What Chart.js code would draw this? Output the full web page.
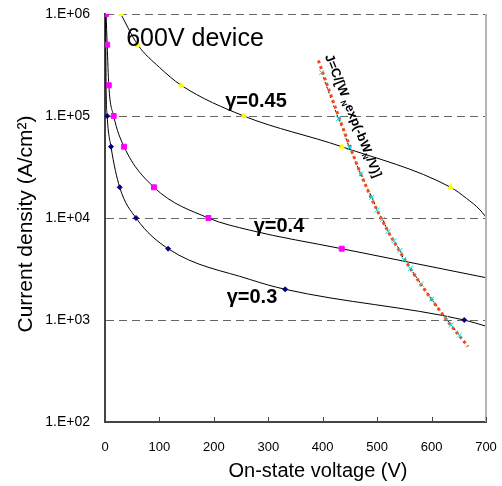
<!DOCTYPE html>
<html>
<head>
<meta charset="utf-8">
<script src="https://cdn.jsdelivr.net/npm/chart.js@4"></script>
<style>
  body { margin: 0; background: #fff; }
</style>
</head>
<body>
<canvas id="jv-chart" width="502" height="486"></canvas>
<script>
// curves (V, A/cm2)
const lineV45 = [29, 60, 100, 140, 255, 435, 635, 664, 689, 706];
const lineJ45 = [1e6, 5e5, 3e5, 2e5, 1e5, 5e4, 2e4, 1.56e4, 1.2e4, 9.2e3];
const markV45 = [30, 60, 140, 255, 435, 635];
const markJ45 = [1e6, 5e5, 2e5, 1e5, 5e4, 2e4];

const lineV40 = [2, 4, 7, 16, 35, 90, 190, 266, 435, 557, 700];
const lineJ40 = [1e6, 5e5, 2e5, 1e5, 5e4, 2e4, 1e4, 7.6e3, 5e3, 3.7e3, 2.6e3];
const markV40 = [2, 4, 7, 16, 35, 90, 190, 435];
const markJ40 = [1e6, 5e5, 2e5, 1e5, 5e4, 2e4, 1e4, 5e3];

const lineV30 = [1, 1.5, 2, 4, 11, 27, 57, 116, 266, 331, 660, 700];
const lineJ30 = [1e6, 5e5, 2e5, 1e5, 5e4, 2e4, 1e4, 5e3, 2.5e3, 2e3, 1e3, 870];
const markV30 = [1.5, 2, 4, 11, 27, 57, 116, 331, 660];
const markJ30 = [5e5, 2e5, 1e5, 5e4, 2e4, 1e4, 5e3, 2e3, 1e3];

const simV = [398, 429, 449, 470, 490, 500, 510, 520, 531, 542, 549, 561, 581, 600, 626, 636, 651];
const simJ = [2.66e5, 9.4e4, 4.9e4, 2.7e4, 1.6e4, 1.2e4, 9.7e3, 7.4e3, 6.0e3, 4.8e3, 3.9e3, 3.2e3, 2.24e3, 1.6e3, 1.04e3, 890, 710];

const fitV = [392, 429, 470, 507, 561, 628, 667];
const fitJ = [3.5e5, 1e5, 2.7e4, 1e4, 3.2e3, 1e3, 550];

const yTicks = [100, 1000, 10000, 100000, 1000000];
const xTicks = [0, 100, 200, 300, 400, 500, 600, 700];

const font = 'Liberation Sans, Arial, sans-serif';

function pts(xs, ys) {
    return xs.map((x, i) => ({x: x, y: ys[i]}));
}

function curve(xs, ys) {
    return {
        data: pts(xs, ys),
        showLine: true,
        borderColor: '#000',
        borderWidth: 1,
        pointRadius: 0,
        cubicInterpolationMode: 'monotone'
    };
}

function marks(xs, ys, style, color, r) {
    return {
        data: pts(xs, ys),
        showLine: false,
        pointStyle: style,
        pointRadius: r,
        backgroundColor: color,
        borderColor: color,
        borderWidth: 1
    };
}

const notes = {
    id: 'notes',
    afterDraw(chart) {
        const ctx = chart.ctx;
        const x = chart.scales.x;
        const area = chart.chartArea;
        ctx.save();

        // right frame + inner ticks
        ctx.strokeStyle = '#b4b4b4';
        ctx.lineWidth = 2;
        ctx.beginPath();
        ctx.moveTo(area.right, area.top);
        ctx.lineTo(area.right, area.bottom);
        ctx.stroke();
        ctx.strokeStyle = '#444';
        ctx.lineWidth = 1;
        xTicks.slice(1).forEach(v => {
            const px = Math.round(x.getPixelForValue(v)) + 0.5;
            ctx.beginPath();
            ctx.moveTo(px, area.bottom);
            ctx.lineTo(px, area.bottom - 5);
            ctx.stroke();
        });

        ctx.fillStyle = '#000';
        ctx.textAlign = 'center';
        ctx.textBaseline = 'middle';
        ctx.font = '25px ' + font;
        ctx.fillText('600V device', 195, 39);
        ctx.font = 'bold 20px ' + font;
        ctx.fillText('\u03b3=0.45', 256, 101);
        ctx.fillText('\u03b3=0.4', 279, 226);
        ctx.fillText('\u03b3=0.3', 252, 297);

        ctx.font = '20px ' + font;
        ctx.fillText('On-state voltage (V)', 318, 471);

        ctx.save();
        ctx.translate(26, 224);
        ctx.rotate(-Math.PI / 2);
        ctx.font = '21px ' + font;
        ctx.fillText('Current density (A/cm\u00b2)', 0, 0);
        ctx.restore();

        // formula along the fit line
        ctx.translate(328, 55);
        ctx.rotate(68 * Math.PI / 180);
        ctx.textAlign = 'left';
        let cx = 0;
        const parts = [['J=C/[W ', 0], ['N', 1], ['exp(-bW', 0], ['N', 1], ['/V)]', 0]];
        parts.forEach(p => {
            ctx.font = p[1] ? 'bold 8px ' + font : 'bold 13px ' + font;
            ctx.fillText(p[0], cx, p[1] ? 4 : 0);
            cx += ctx.measureText(p[0]).width;
        });
        ctx.restore();
    }
};

new Chart(document.getElementById('jv-chart'), {
    type: 'scatter',
    data: {
        datasets: [
            marks(markV45, markJ45, 'triangle', '#ffff00', 3),
            marks(markV40, markJ40, 'rect', '#ff00ff', 3.5),
            marks(markV30, markJ30, 'rectRot', '#000080', 2.5),
            marks(simV, simJ, 'crossRot', '#00e0e0', 3.5),
            {
                data: pts(fitV, fitJ),
                showLine: true,
                borderColor: '#f04a1e',
                borderWidth: 3,
                borderDash: [3, 3],
                pointRadius: 0,
                cubicInterpolationMode: 'monotone'
            },
            {
                data: pts(simV, simJ),
                showLine: true,
                borderColor: '#000',
                borderWidth: 1,
                borderDash: [2, 3],
                pointRadius: 0
            },
            curve(lineV45, lineJ45),
            curve(lineV40, lineJ40),
            curve(lineV30, lineJ30)
        ]
    },
    options: {
        responsive: false,
        animation: false,
        layout: {padding: {left: 0, right: 16, top: 14, bottom: 0}},
        plugins: {legend: {display: false}, tooltip: {enabled: false}},
        scales: {
            x: {
                type: 'linear',
                min: 0,
                max: 700,
                afterFit: s => { s.height = 64; s.paddingLeft = 0; s.paddingRight = 0; },
                afterBuildTicks: s => { s.ticks = xTicks.map(v => ({value: v})); },
                grid: {display: false, drawTicks: false},
                border: {display: true, color: '#444', width: 2},
                ticks: {color: '#000', padding: 18, font: {family: font, size: 13}}
            },
            y: {
                type: 'logarithmic',
                min: 100,
                max: 1e6,
                afterFit: s => { s.width = 105; s.paddingTop = 0; s.paddingBottom = 0; },
                afterBuildTicks: s => { s.ticks = yTicks.map(v => ({value: v})); },
                grid: {
                    drawTicks: false,
                    color: ctx => ctx.tick && ctx.tick.value === 100 ? 'rgba(0,0,0,0)' : '#666',
                    lineWidth: 1
                },
                border: {display: true, color: '#444', width: 2, dash: [8, 5]},
                ticks: {
                    color: '#000',
                    padding: 15,
                    font: {family: font, size: 14},
                    callback: v => '1.E+0' + Math.round(Math.log10(v))
                }
            }
        }
    },
    plugins: [notes]
});
</script>
</body>
</html>
